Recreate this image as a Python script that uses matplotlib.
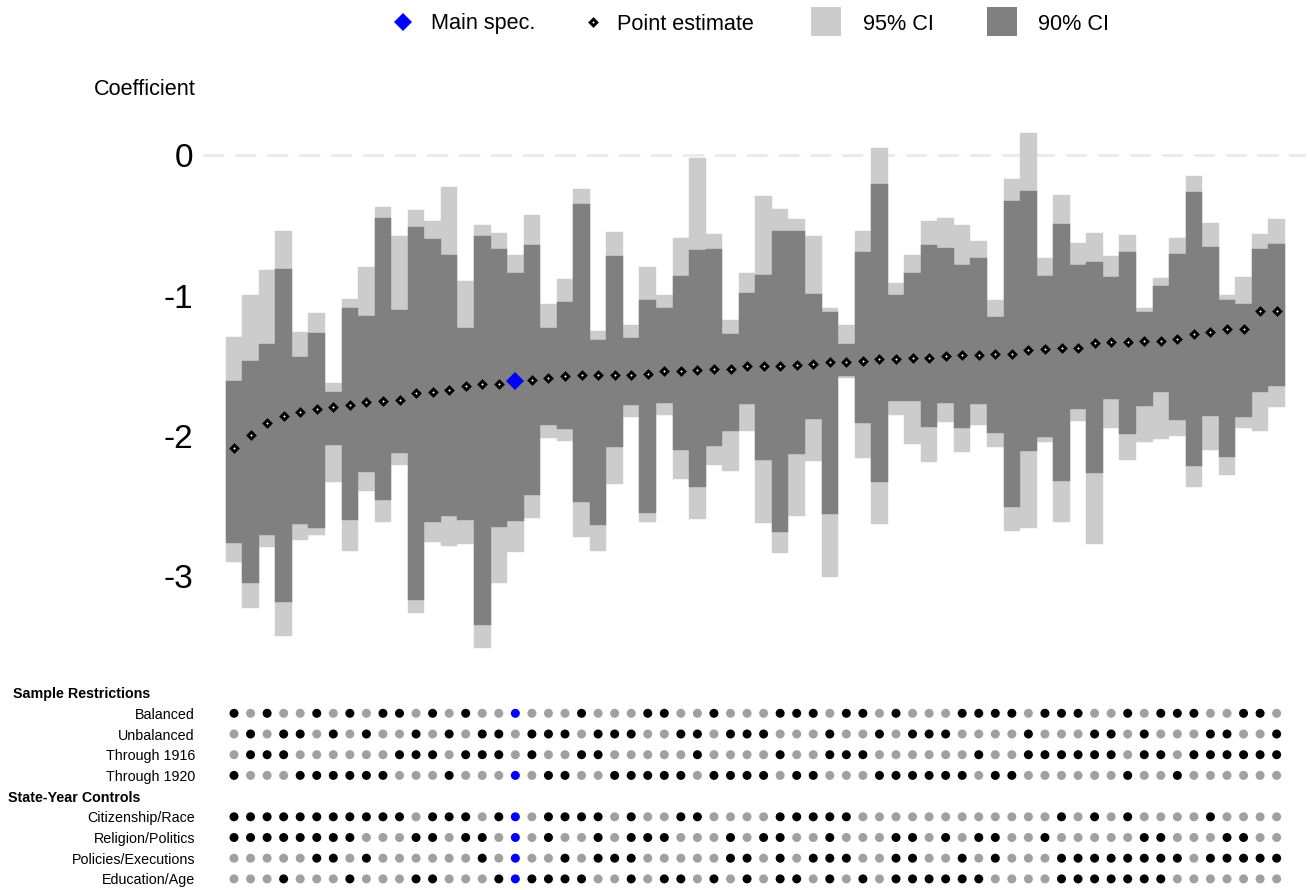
import matplotlib
matplotlib.use("Agg")
import matplotlib.pyplot as plt
from matplotlib.patches import Rectangle
import numpy as np

plt.rcParams['font.family'] = ['Liberation Sans', 'DejaVu Sans']

# ---------------- data ----------------
estimate = [-2.088, -1.993, -1.909, -1.860, -1.828, -1.811, -1.792, -1.782, -1.757, -1.750,
            -1.742, -1.693, -1.689, -1.671, -1.644, -1.632, -1.627, -1.608, -1.603, -1.590,
            -1.571, -1.568, -1.566, -1.565, -1.564, -1.562, -1.536, -1.534, -1.528, -1.526,
            -1.522, -1.504, -1.502, -1.500, -1.495, -1.490, -1.476, -1.474, -1.468, -1.452,
            -1.450, -1.444, -1.442, -1.429, -1.425, -1.423, -1.415, -1.413, -1.388, -1.384,
            -1.376, -1.374, -1.340, -1.333, -1.329, -1.327, -1.323, -1.313, -1.274, -1.257,
            -1.240, -1.235, -1.113, -1.111]

ci95_hi = [-1.296, -0.997, -0.820, -0.541, -1.262, -1.124, -1.620, -1.026, -0.798, -0.371,
           -0.577, -0.391, -0.470, -0.229, -0.896, -0.499, -0.555, -0.712, -0.428, -1.061,
           -0.884, -0.241, -1.254, -0.548, -1.210, -0.798, -0.997, -0.592, -0.021, -0.563,
           -1.176, -0.840, -0.293, -0.384, -0.455, -0.577, -1.090, -1.210, -0.541, 0.048,
           -0.911, -0.712, -0.470, -0.450, -0.499, -0.612, -1.034, -0.170, 0.156, -0.734,
           -0.286, -0.626, -0.555, -0.720, -0.570, -1.090, -0.877, -0.592, -0.151, -0.484,
           -0.997, -0.869, -0.563, -0.455]

ci90_hi = [-1.610, -1.468, -1.345, -0.813, -1.438, -1.267, -1.689, -1.090, -1.144, -0.450,
           -1.102, -0.514, -0.600, -0.712, -1.230, -0.577, -0.671, -0.837, -0.641, -1.230,
           -1.043, -0.347, -1.316, -0.720, -1.301, -1.031, -1.088, -0.862, -0.676, -0.671,
           -1.272, -0.982, -0.855, -0.541, -0.541, -0.990, -1.119, -1.345, -0.690, -0.207,
           -0.994, -0.840, -0.641, -0.661, -0.781, -0.734, -1.151, -0.327, -0.256, -0.862,
           -0.492, -0.781, -0.761, -0.867, -0.690, -1.117, -0.933, -0.705, -0.264, -0.656,
           -1.031, -1.061, -0.671, -0.634]

ci90_lo = [-2.763, -3.045, -2.706, -3.184, -2.628, -2.657, -2.066, -2.596, -2.253, -2.456,
           -2.123, -3.167, -2.613, -2.571, -2.596, -3.344, -2.650, -2.606, -2.419, -1.919,
           -1.951, -2.473, -2.633, -2.081, -1.777, -2.547, -1.762, -2.100, -2.365, -2.074,
           -1.966, -1.774, -2.172, -2.682, -2.130, -1.880, -2.554, -1.573, -1.909, -2.326,
           -1.752, -1.752, -1.934, -1.767, -1.941, -1.774, -1.978, -2.505, -2.108, -2.007,
           -2.321, -1.809, -2.262, -1.738, -1.985, -1.787, -1.689, -1.885, -2.213, -1.858,
           -2.149, -1.865, -1.684, -1.644]

ci95_lo = [-2.895, -3.224, -2.792, -3.422, -2.743, -2.706, -2.326, -2.817, -2.390, -2.611,
           -2.206, -3.258, -2.753, -2.782, -2.768, -3.508, -3.045, -2.824, -2.584, -2.012,
           -2.034, -2.719, -2.817, -2.341, -1.863, -2.611, -1.853, -2.304, -2.591, -2.206,
           -2.248, -1.963, -2.616, -2.831, -2.569, -2.177, -3.006, -1.585, -2.154, -2.625,
           -1.853, -2.056, -2.184, -1.899, -2.113, -1.921, -2.078, -2.674, -2.655, -2.042,
           -2.611, -1.892, -2.768, -1.941, -2.169, -2.042, -2.020, -2.002, -2.363, -2.098,
           -2.277, -1.941, -1.963, -1.792]

main_spec = 17

balanced = [1, 0, 1, 0, 0, 1, 0, 1, 0, 1, 1, 0, 1, 0, 1, 0, 0, 1, 0, 0, 0,
            1, 0, 0, 0, 1, 1, 0, 0, 1, 0, 0, 0, 1, 1, 1, 0, 1, 1, 0, 1, 0, 0,
            0, 1, 1, 1, 1, 0, 1, 1, 1, 0, 0, 1, 0, 1, 1, 1, 0, 0, 1, 1, 0]
unbalanced = [1 - v for v in balanced]
through_1916 = [0, 1, 1, 1, 0, 0, 0, 0, 0, 0, 1, 1, 1, 0, 1, 1, 1, 0, 1, 0, 0,
                1, 1, 0, 0, 0, 0, 0, 1, 0, 0, 0, 0, 1, 0, 0, 1, 1, 1, 0, 0, 0, 0,
                0, 0, 1, 0, 0, 1, 1, 1, 1, 1, 1, 0, 1, 1, 0, 1, 1, 1, 1, 1, 1]
through_1920 = [1 - v for v in through_1916]
citizenship_race = [1, 1, 1, 1, 1, 1, 1, 1, 1, 1, 1, 0, 1, 1, 1, 0, 1, 1, 0, 1, 1,
                    1, 1, 0, 1, 0, 0, 1, 1, 0, 0, 0, 0, 1, 1, 1, 1, 1, 0, 0, 0, 0, 0,
                    0, 0, 0, 0, 0, 0, 0, 1, 0, 1, 0, 1, 0, 0, 0, 0, 1, 0, 0, 0, 0]
religion_politics = [1, 1, 1, 1, 1, 1, 1, 1, 0, 0, 0, 1, 1, 0, 1, 1, 0, 1, 0, 1, 0,
                     0, 1, 0, 1, 1, 1, 0, 0, 0, 1, 0, 1, 1, 0, 0, 1, 0, 0, 0, 1, 1, 0,
                     1, 0, 1, 1, 0, 0, 1, 0, 0, 0, 0, 0, 1, 1, 0, 0, 0, 1, 1, 0, 0]
policies_executions = [0, 0, 0, 0, 0, 1, 1, 0, 1, 0, 0, 0, 0, 0, 0, 1, 0, 1, 0, 0, 1,
                       0, 1, 1, 1, 0, 0, 0, 0, 0, 1, 1, 0, 1, 0, 1, 1, 1, 0, 0, 1, 1, 0,
                       0, 1, 0, 1, 0, 0, 0, 1, 1, 1, 1, 1, 1, 1, 1, 0, 1, 1, 1, 1, 1]
education_age = [0, 0, 0, 1, 0, 0, 0, 1, 0, 0, 0, 1, 1, 0, 0, 0, 1, 1, 1, 1, 1,
                 1, 0, 0, 1, 0, 1, 1, 0, 1, 0, 1, 0, 1, 1, 0, 1, 0, 1, 0, 1, 1, 1,
                 1, 1, 1, 0, 0, 0, 0, 1, 1, 1, 1, 1, 1, 1, 0, 0, 0, 0, 0, 0, 0]

row_labels = ['Balanced', 'Unbalanced', 'Through 1916', 'Through 1920',
              'Citizenship/Race', 'Religion/Politics', 'Policies/Executions', 'Education/Age']
row_data = [balanced, unbalanced, through_1916, through_1920,
            citizenship_race, religion_politics, policies_executions, education_age]
group_labels = ['Sample Restrictions', 'State-Year Controls']
y_ticks = [0, -1, -2, -3]
y_ticklabels = ['0', '-1', '-2', '-3']
legend_labels = ['Main spec.', 'Point estimate', '95% CI', '90% CI']

# ---------------- layout ----------------
W, H = 1310, 890
fig = plt.figure(figsize=(W / 100, H / 100), dpi=100)

n = len(estimate)
xs = np.arange(n)
est = np.array(estimate)
hi95, lo95 = np.array(ci95_hi), np.array(ci95_lo)
hi90, lo90 = np.array(ci90_hi), np.array(ci90_lo)

X0, DX = 234.0, 16.55          # pixel centre of first spec and spacing
AX_L, AX_R = 203.0, 1306.0
xlim = ((AX_L - X0) / DX, (AX_R - X0) / DX)

LIGHT, DARK = '#cccccc', '#808080'
BLUE, GREY = '#0000ff', '#a0a0a0'

# top panel
Y_TOP, Y_BOT = 0.25, -3.6
PXU = 140.5
top_px = 155 - Y_TOP * PXU
bot_px = 155 - Y_BOT * PXU
ax = fig.add_axes([AX_L / W, (H - bot_px) / H, (AX_R - AX_L) / W, (bot_px - top_px) / H])
ax.set_xlim(*xlim)
ax.set_ylim(Y_BOT, Y_TOP)
ax.axhline(0, color='#e3ecec', lw=2.0, ls=(0, (7.5, 4.0)), zorder=0)
ax.bar(xs, hi95 - lo95, bottom=lo95, width=1.0, color=LIGHT, edgecolor=LIGHT, linewidth=0.3, zorder=1)
ax.bar(xs, hi90 - lo90, bottom=lo90, width=1.0, color=DARK, edgecolor=DARK, linewidth=0.3, zorder=2)
others = xs != main_spec
ax.plot(xs[others], est[others], ls='none', marker='D', ms=3.4, mfc='white', mec='black', mew=2.1, zorder=3)
ax.plot([main_spec], [est[main_spec]], ls='none', marker='D', ms=9.2, color=BLUE, mew=0, zorder=4)
for s in ax.spines.values():
    s.set_visible(False)
ax.set_xticks([])
ax.set_yticks(y_ticks)
ax.set_yticklabels(y_ticklabels)
ax.tick_params(axis='y', length=0, pad=7.2, labelsize=24)
ax.patch.set_visible(False)

# bottom dot panel
ROW_PX, ROW0 = 20.7, 713.3
row_pos = [0, 1, 2, 3, 5, 6, 7, 8]
ax2 = fig.add_axes([AX_L / W, 0, (AX_R - AX_L) / W, 210 / H])
ax2.set_xlim(*xlim)
ax2.set_ylim((890 - ROW0) / ROW_PX, (680 - ROW0) / ROW_PX)
for ypos, vals in zip(row_pos, row_data):
    cols = [BLUE if (i == main_spec and vals[i]) else ('black' if vals[i] else GREY) for i in range(n)]
    ax2.scatter(xs, [ypos] * n, s=42, c=cols, linewidths=0)
for s in ax2.spines.values():
    s.set_visible(False)
ax2.set_xticks([])
ax2.set_yticks(row_pos)
ax2.set_yticklabels(row_labels)
ax2.tick_params(axis='y', length=0, pad=5.8, labelsize=10.3)
ax2.patch.set_visible(False)

# overlay for free text and legend
lax = fig.add_axes([0, 0, 1, 1])
lax.set_xlim(0, W)
lax.set_ylim(H, 0)
lax.axis('off')
lax.patch.set_visible(False)

lax.text(13.3, 697.8, group_labels[0], fontsize=10.3, fontweight='bold', va='baseline')
lax.text(8.3, 801.8, group_labels[1], fontsize=10.3, fontweight='bold', va='baseline')
lax.text(93.6, 95, 'Coefficient', fontsize=15.6, va='baseline')

lax.plot([402.5], [21.5], ls='none', marker='D', ms=9.2, color=BLUE, mew=0)
lax.text(431, 29.5, legend_labels[0], fontsize=15.6, va='baseline')
lax.plot([593], [21.5], ls='none', marker='D', ms=3.4, mfc='white', mec='black', mew=2.1)
lax.text(617, 29.5, legend_labels[1], fontsize=15.6, va='baseline')
lax.add_patch(Rectangle((811, 7), 30, 29, color=LIGHT, lw=0))
lax.text(863, 29.5, legend_labels[2], fontsize=15.6, va='baseline')
lax.add_patch(Rectangle((987, 7), 30, 29, color=DARK, lw=0))
lax.text(1038, 29.5, legend_labels[3], fontsize=15.6, va='baseline')

fig.savefig('out.png', dpi=100, facecolor='white')
